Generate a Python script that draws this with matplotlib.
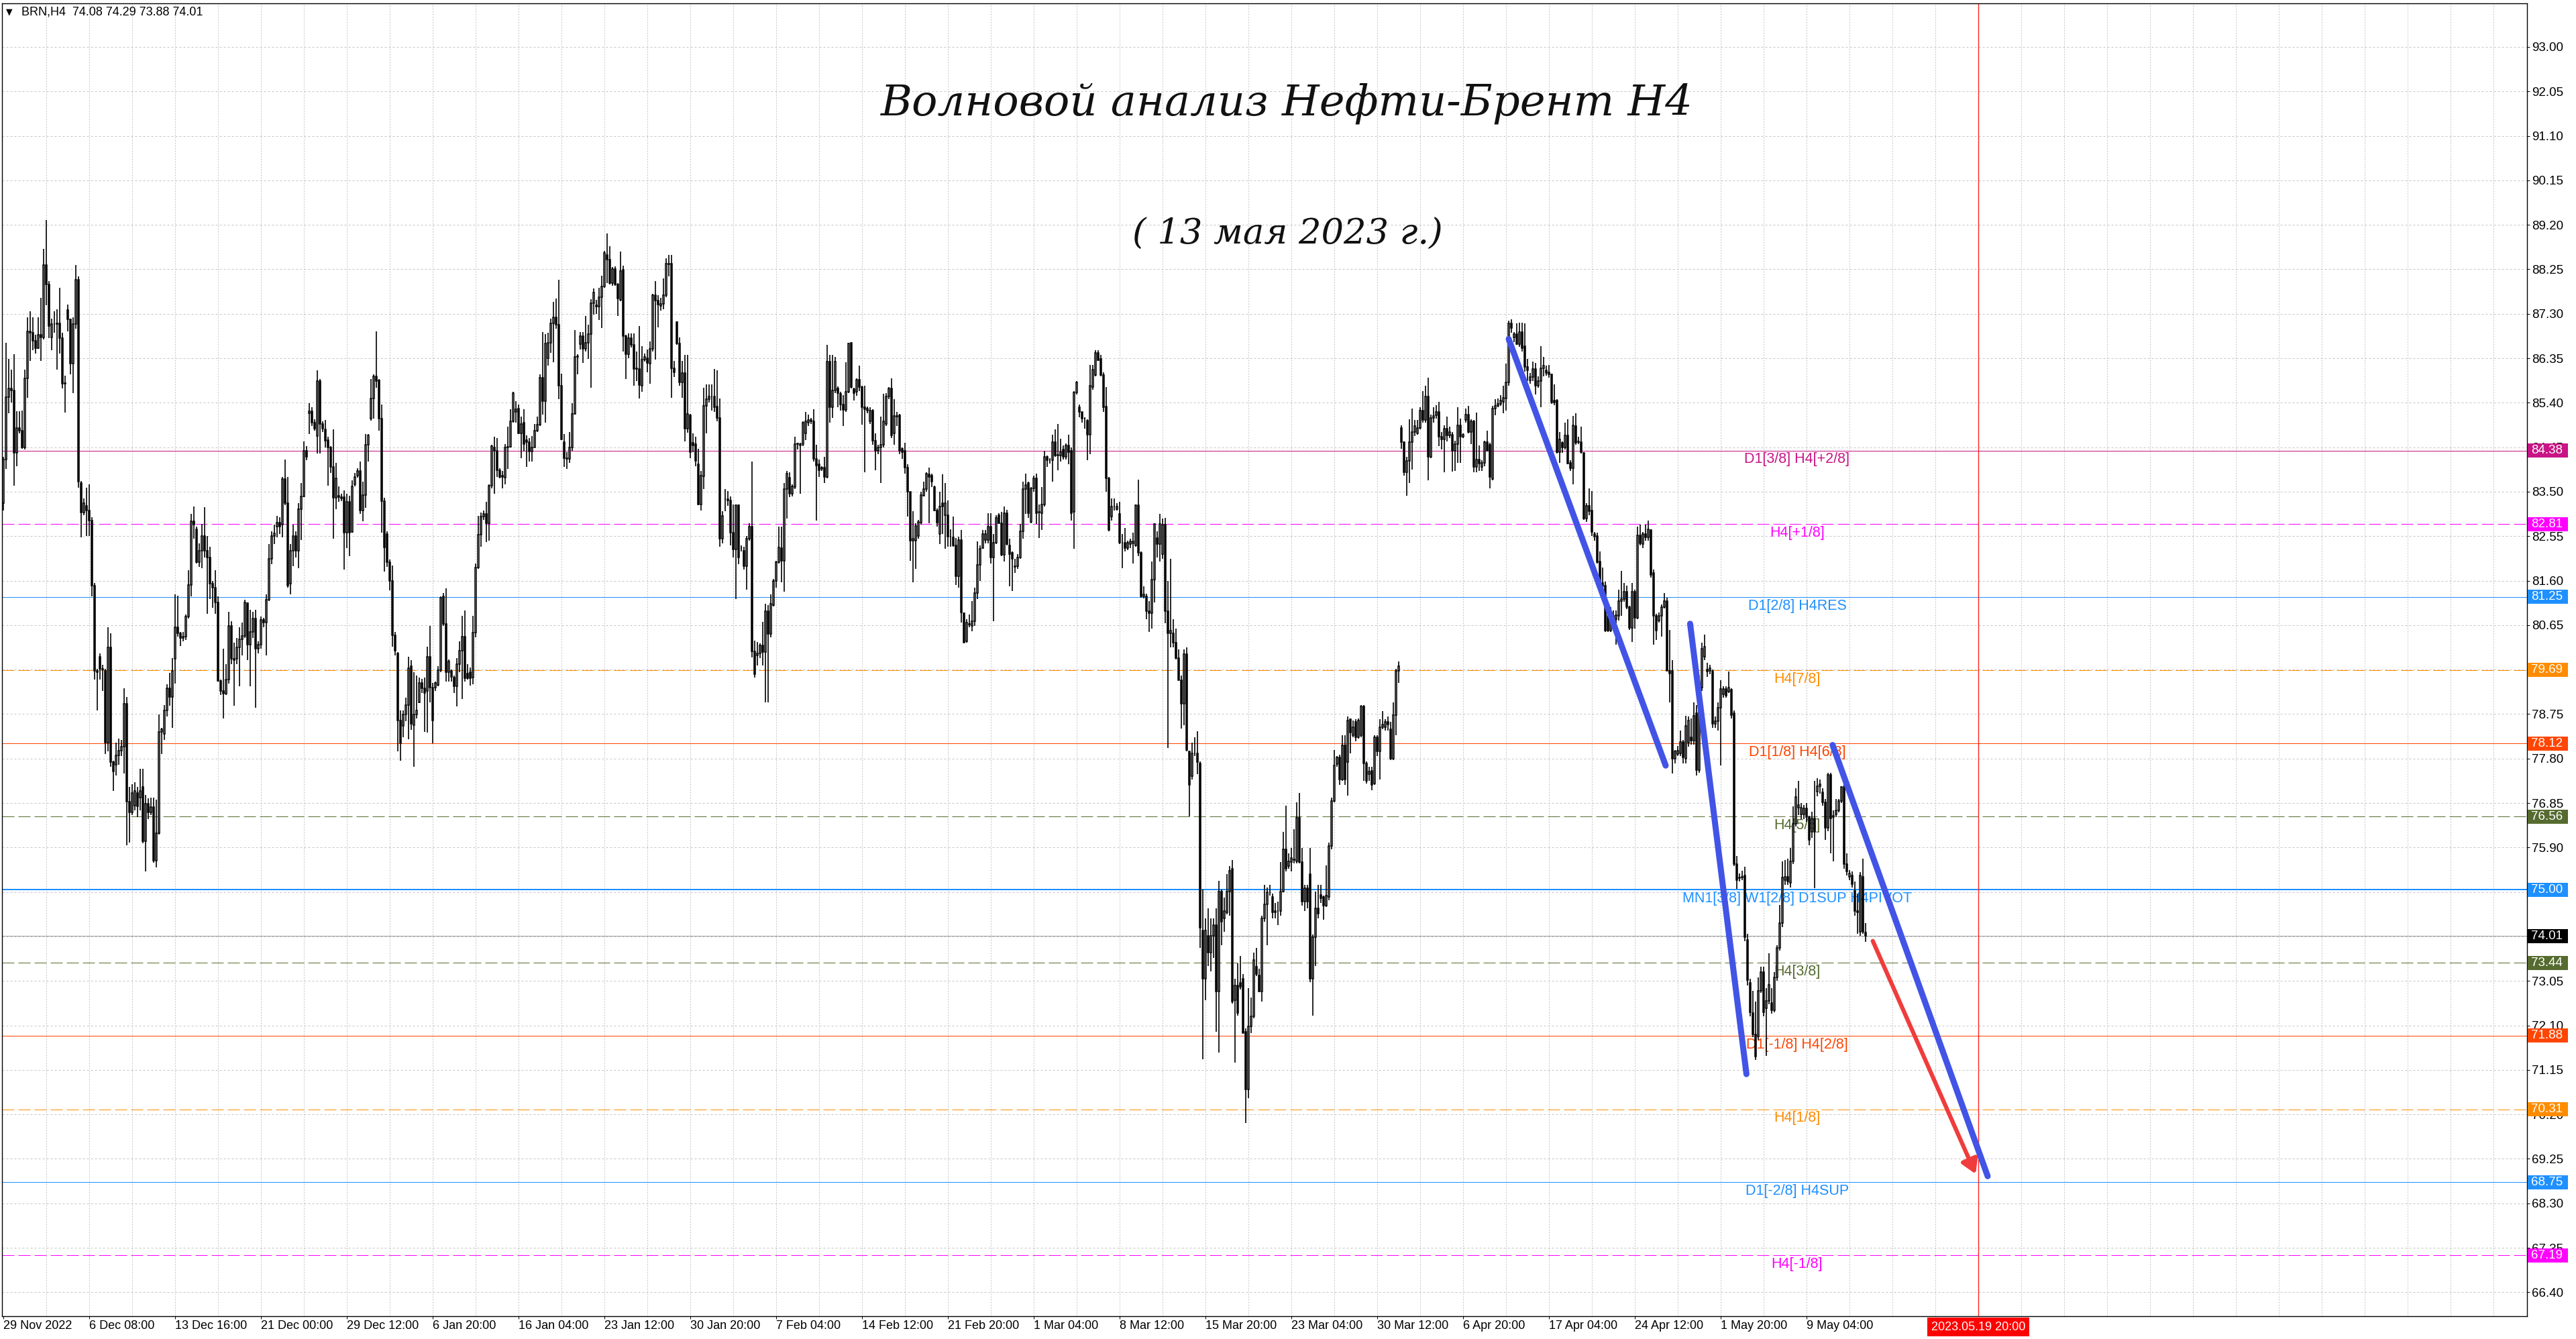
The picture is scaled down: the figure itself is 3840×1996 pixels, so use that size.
import numpy as np
import matplotlib.pyplot as plt
import matplotlib.transforms as mtransforms
from matplotlib.patches import Rectangle, FancyArrowPatch

plt.rcParams['font.family'] = ['Liberation Sans', 'DejaVu Sans']
plt.rcParams['lines.scale_dashes'] = False

# BRN H4 candles (bar 0 = 29 Nov 2022 00:00)
opens = [
    83.26, 84.19, 85.52, 85.70, 85.66, 84.33, 84.86, 84.80, 84.45, 85.92,
    86.92, 86.90, 86.73, 86.57, 86.85, 86.80, 88.34, 87.92, 86.80, 87.08,
    87.08, 87.10, 86.78, 85.80, 87.38, 87.18, 86.23, 87.08, 88.03, 83.68,
    83.06, 83.20, 83.10, 82.89, 81.49, 79.67, 79.98, 79.72, 79.68, 78.14,
    80.17, 77.72, 77.67, 77.87, 77.97, 78.06, 78.97, 76.88, 76.65, 76.80,
    77.06, 76.97, 77.20, 76.04, 76.83, 76.65, 76.76, 75.62, 76.20, 78.37,
    78.32, 78.83, 79.30, 79.11, 79.93, 80.61, 80.47, 80.37, 80.40, 80.84,
    81.51, 82.87, 82.70, 82.00, 82.24, 82.56, 82.24, 82.10, 81.54, 81.45,
    81.14, 79.46, 79.25, 79.18, 79.49, 80.63, 79.93, 79.93, 80.17, 80.35,
    80.42, 81.12, 80.23, 80.51, 80.79, 80.14, 80.23, 80.76, 80.70, 81.19,
    82.07, 82.56, 82.75, 82.84, 82.80, 83.77, 83.26, 81.54, 82.24, 82.56,
    82.24, 83.12, 83.40, 84.38, 85.17, 85.22, 84.97, 84.69, 85.86, 84.95,
    84.83, 84.60, 84.44, 84.03, 83.37, 83.42, 83.38, 83.38, 82.62, 83.28,
    82.64, 83.65, 83.84, 83.94, 83.10, 83.43, 84.50, 85.06, 85.49, 85.96,
    85.88, 85.06, 83.30, 82.60, 82.00, 81.59, 80.44, 80.05, 78.62, 78.50,
    78.74, 78.95, 79.77, 78.51, 78.74, 79.00, 79.41, 79.30, 79.24, 79.98,
    79.31, 79.31, 79.37, 79.69, 81.26, 80.68, 79.65, 79.67, 79.53, 79.34,
    79.82, 80.11, 80.40, 79.61, 79.65, 79.53, 80.49, 81.88, 82.58, 82.97,
    83.03, 82.83, 83.63, 84.44, 84.37, 83.96, 83.84, 83.80, 84.44, 84.46,
    85.00, 85.20, 85.28, 84.75, 84.97, 84.60, 84.56, 84.36, 84.45, 84.81,
    84.93, 85.94, 85.43, 86.35, 86.68, 87.09, 87.22, 87.06, 85.76, 84.56,
    84.21, 84.20, 84.44, 85.16, 86.38, 86.65, 86.83, 86.55, 86.68, 86.87,
    87.53, 87.48, 87.45, 87.66, 87.89, 88.56, 88.46, 87.96, 88.25, 87.92,
    87.59, 88.24, 86.83, 86.44, 86.78, 86.63, 86.12, 86.12, 85.76, 86.32,
    86.35, 86.24, 86.55, 87.70, 87.58, 87.47, 87.51, 87.70, 88.37, 88.37,
    86.13, 87.12, 86.66, 85.84, 86.04, 84.85, 85.13, 84.55, 84.51, 84.09,
    83.23, 83.83, 85.33, 85.47, 85.54, 85.54, 85.32, 85.08, 82.50, 83.34,
    83.34, 83.32, 82.63, 82.26, 83.21, 82.29, 82.24, 81.91, 82.49, 82.76,
    80.09, 80.00, 80.04, 80.22, 80.07, 80.95, 80.46, 81.08, 81.59, 82.00,
    82.29, 82.03, 83.56, 83.80, 83.45, 83.60, 84.52, 84.49, 84.52, 84.75,
    84.97, 85.03, 85.00, 84.20, 84.08, 83.98, 84.02, 83.81, 86.28, 85.30,
    85.66, 85.71, 85.59, 85.36, 85.25, 85.63, 86.68, 85.69, 85.63, 85.89,
    85.74, 85.30, 85.28, 85.00, 85.23, 84.59, 84.37, 84.44, 84.50, 84.95,
    85.53, 85.71, 84.74, 85.12, 85.13, 84.41, 84.37, 84.02, 83.50, 82.46,
    82.46, 82.56, 82.84, 83.42, 83.56, 83.87, 83.85, 83.60, 83.10, 82.60,
    83.26, 83.00, 83.00, 82.54, 82.52, 82.36, 81.70, 82.47, 80.90, 80.31,
    80.68, 80.63, 80.74, 81.34, 81.94, 82.30, 82.47, 82.47, 82.76, 82.09,
    82.41, 83.00, 82.83, 82.15, 83.04, 82.36, 82.19, 81.90, 81.91, 82.09,
    82.65, 83.55, 83.68, 82.86, 83.57, 83.79, 83.06, 83.04, 83.23, 84.24,
    84.17, 84.17, 84.56, 84.27, 84.28, 84.40, 84.24, 84.49, 84.38, 83.07,
    85.62, 85.30, 85.20, 85.06, 85.02, 84.72, 85.73, 85.99, 86.47, 86.33,
    85.99, 85.32, 83.79, 82.97, 83.18, 83.13, 83.02, 82.41, 82.41, 82.30,
    82.38, 82.39, 82.36, 83.21, 82.19, 81.27, 81.27, 80.95, 80.90, 81.62,
    82.51, 82.38, 82.17, 82.79, 80.95, 80.47, 80.47, 80.28, 79.94, 79.47,
    78.97, 80.03, 77.95, 77.43, 77.91, 77.91, 77.69, 74.13, 73.09, 74.02,
    73.65, 74.02, 74.25, 72.83, 74.96, 74.38, 74.51, 74.96, 75.45, 72.64,
    72.95, 73.01, 73.09, 71.97, 70.74, 72.08, 72.30, 73.35, 73.17, 72.83,
    74.38, 74.69, 74.94, 74.85, 74.51, 74.55, 74.55, 74.96, 75.86, 75.50,
    75.59, 75.63, 75.61, 76.53, 75.59, 74.74, 75.03, 75.33, 73.09, 73.99,
    74.60, 74.89, 74.85, 74.66, 74.85, 75.93, 76.90, 77.68, 77.83, 77.35,
    78.08, 77.72, 78.64, 78.30, 78.58, 78.25, 78.30, 78.92, 77.69, 77.46,
    77.54, 77.27, 78.25, 77.95, 78.47, 78.47, 78.58, 78.42, 77.80, 78.73,
    79.67, 84.86, 84.56, 83.91, 84.16, 84.56, 84.78, 84.75, 84.86, 85.23,
    85.03, 85.53, 84.25, 85.08, 85.13, 85.21, 84.68, 84.61, 84.85, 84.70,
    84.71, 84.37, 84.51, 84.92, 84.68, 85.03, 85.15, 84.78, 85.01, 84.03,
    84.19, 84.03, 84.12, 84.56, 84.50, 83.77, 85.27, 85.33, 85.38, 85.42,
    85.49, 85.84, 87.09, 86.79, 86.87, 86.65, 86.91, 86.61, 86.16, 85.88,
    85.95, 86.12, 85.76, 85.86, 86.14, 86.09, 86.05, 86.00, 85.45, 85.45,
    84.35, 84.54, 84.45, 84.70, 84.12, 84.00, 84.91, 84.56, 84.56, 84.33,
    82.92, 83.20, 83.10, 82.60, 82.56, 82.01, 81.55, 81.50, 80.85, 80.54,
    80.82, 80.78, 80.85, 81.17, 81.20, 81.36, 81.03, 80.59, 81.37, 80.80,
    82.57, 82.38, 82.59, 82.52, 82.68, 81.76, 80.85, 80.75, 80.85, 81.04,
    81.17, 79.67, 79.67, 77.79, 77.90, 77.91, 78.16, 77.79, 78.14, 78.25,
    78.19, 78.77, 77.56, 79.31, 79.98, 79.70, 79.68, 79.66, 78.54, 78.60,
    78.88, 79.17, 79.29, 79.23, 79.27, 78.77, 75.54, 75.24, 75.26, 75.31,
    73.93, 73.01, 72.36, 71.91, 71.86, 72.84, 73.24, 72.47, 72.63, 72.58,
    72.43, 73.12, 73.76, 74.28, 75.20, 75.28, 75.14, 75.60, 76.41, 76.75,
    76.61, 76.61, 76.73, 76.55, 76.23, 76.52, 77.10, 77.21, 77.08, 76.87,
    76.32, 77.45, 76.55, 76.61, 76.70, 76.89, 77.19, 75.54, 75.28, 75.31,
    74.97, 74.54, 74.10, 75.28, 74.08,
]
highs = [
    84.25, 86.68, 86.34, 86.10, 86.43, 85.22, 85.22, 85.24, 86.10, 87.22,
    87.36, 87.22, 86.85, 87.22, 87.64, 88.69, 89.30, 88.00, 87.20, 87.36,
    87.40, 87.85, 86.90, 85.98, 87.50, 87.20, 87.22, 88.34, 88.10, 83.73,
    83.36, 83.59, 83.65, 82.95, 81.55, 79.72, 80.05, 79.80, 79.72, 80.60,
    80.47, 77.75, 78.14, 78.23, 78.20, 79.30, 79.11, 77.20, 77.25, 77.30,
    77.20, 77.58, 77.58, 77.02, 76.95, 76.97, 76.97, 76.92, 78.74, 78.45,
    78.95, 79.39, 79.63, 79.95, 81.30, 81.28, 80.50, 80.50, 80.88, 81.82,
    83.03, 83.19, 82.75, 82.40, 82.81, 83.17, 82.56, 82.33, 81.60, 81.82,
    81.26, 79.49, 80.14, 79.81, 80.93, 80.74, 80.28, 80.37, 80.61, 80.70,
    81.19, 81.14, 80.98, 80.93, 80.98, 80.30, 80.84, 80.80, 81.30, 82.38,
    82.65, 82.80, 82.98, 82.95, 83.82, 84.19, 83.82, 82.38, 82.80, 82.65,
    83.26, 83.68, 84.57, 84.47, 85.39, 85.30, 85.05, 86.09, 85.91, 85.00,
    85.03, 84.67, 84.48, 84.83, 84.11, 83.61, 83.45, 83.53, 83.45, 83.41,
    83.74, 83.90, 84.00, 84.15, 83.71, 84.73, 84.73, 85.91, 86.00, 86.93,
    85.91, 85.36, 83.37, 82.66, 82.05, 81.92, 80.50, 80.07, 78.83, 78.83,
    79.10, 79.98, 79.90, 79.65, 79.57, 79.53, 79.50, 79.53, 80.19, 80.64,
    79.41, 79.45, 79.78, 81.26, 81.34, 81.43, 79.92, 79.70, 79.57, 79.94,
    80.31, 80.85, 80.96, 79.82, 79.74, 80.85, 81.96, 82.99, 83.05, 83.10,
    83.28, 83.65, 84.50, 84.67, 84.64, 84.00, 83.94, 84.52, 84.89, 85.26,
    85.63, 85.43, 85.36, 85.10, 85.26, 84.70, 84.64, 84.69, 84.95, 85.10,
    86.00, 86.91, 86.87, 86.90, 87.20, 87.56, 87.62, 88.03, 86.02, 84.73,
    84.35, 84.77, 85.39, 86.95, 86.43, 86.91, 86.91, 87.26, 87.07, 87.61,
    87.84, 87.60, 87.86, 88.11, 88.65, 89.02, 88.74, 88.30, 88.32, 87.95,
    88.63, 88.33, 86.85, 86.88, 86.88, 86.88, 86.50, 87.04, 86.61, 86.45,
    86.53, 86.71, 87.72, 88.00, 87.70, 87.64, 88.06, 88.49, 88.56, 88.56,
    86.30, 87.14, 86.79, 86.30, 86.42, 86.42, 85.16, 84.74, 84.67, 84.41,
    83.94, 85.72, 85.79, 85.79, 85.79, 86.12, 86.09, 85.49, 83.09, 83.55,
    83.52, 83.40, 83.22, 83.22, 83.22, 82.36, 82.33, 82.56, 82.82, 84.14,
    80.32, 80.29, 80.26, 80.72, 81.11, 81.08, 81.31, 81.64, 82.03, 82.76,
    82.76, 83.68, 83.94, 83.91, 83.65, 84.67, 84.55, 84.55, 85.00, 85.20,
    85.15, 85.07, 85.26, 84.50, 84.18, 84.05, 84.24, 86.63, 86.42, 86.42,
    86.38, 85.75, 85.63, 85.56, 86.27, 86.68, 86.70, 85.72, 85.92, 86.19,
    85.76, 85.76, 85.32, 85.30, 85.26, 84.74, 84.50, 85.10, 85.59, 85.60,
    85.74, 85.92, 85.47, 85.20, 85.16, 84.45, 84.54, 84.08, 83.50, 83.09,
    82.82, 82.90, 83.50, 83.71, 83.91, 84.02, 83.88, 83.63, 83.14, 83.50,
    83.87, 83.68, 83.32, 82.70, 82.97, 82.51, 82.54, 82.68, 80.92, 80.77,
    80.88, 81.16, 81.45, 82.44, 82.36, 82.68, 82.68, 83.04, 83.04, 82.60,
    83.00, 83.04, 83.07, 83.18, 83.11, 82.49, 82.22, 82.07, 82.17, 82.81,
    83.71, 83.89, 83.71, 83.60, 83.85, 83.89, 83.23, 83.60, 84.38, 84.27,
    84.22, 84.72, 84.83, 84.95, 84.63, 84.49, 84.53, 84.72, 84.45, 85.65,
    85.87, 85.36, 85.20, 85.09, 85.04, 86.21, 86.21, 86.52, 86.52, 86.42,
    86.05, 85.73, 83.82, 83.36, 83.36, 83.25, 83.29, 82.60, 82.72, 82.45,
    82.50, 82.62, 83.23, 83.76, 82.22, 81.48, 81.32, 81.16, 82.01, 82.83,
    82.65, 83.02, 82.92, 82.94, 81.59, 82.07, 80.77, 80.58, 80.13, 79.57,
    80.13, 80.18, 77.97, 78.14, 78.25, 78.39, 77.74, 75.00, 74.38, 74.60,
    74.38, 74.38, 74.60, 75.19, 75.00, 74.83, 75.33, 75.50, 75.64, 73.09,
    73.43, 73.59, 73.20, 72.03, 72.90, 72.70, 73.65, 73.76, 73.31, 74.44,
    75.11, 75.05, 75.11, 74.92, 74.72, 74.74, 75.59, 76.23, 76.79, 75.78,
    75.89, 76.29, 76.87, 77.07, 75.89, 75.10, 75.10, 75.89, 74.04, 74.96,
    75.11, 75.11, 74.88, 75.52, 76.01, 76.96, 77.99, 77.86, 77.88, 78.30,
    78.30, 78.70, 78.66, 78.62, 78.64, 78.66, 78.95, 78.95, 77.74, 77.63,
    77.63, 78.30, 78.30, 78.64, 78.81, 78.64, 78.70, 78.58, 79.00, 79.71,
    79.87, 84.92, 84.58, 84.25, 85.05, 85.28, 85.03, 85.03, 85.31, 85.65,
    85.76, 85.93, 85.14, 85.31, 85.35, 85.42, 84.78, 84.92, 85.10, 84.89,
    84.78, 84.59, 85.31, 85.06, 84.75, 85.27, 85.34, 85.05, 85.03, 85.19,
    84.49, 84.17, 84.59, 84.80, 84.54, 85.34, 85.47, 85.49, 85.56, 85.76,
    86.24, 87.15, 87.18, 86.91, 87.09, 87.11, 87.11, 87.09, 86.33, 86.04,
    86.28, 86.25, 85.97, 86.61, 86.38, 86.19, 86.21, 86.02, 85.79, 85.48,
    84.78, 84.57, 84.98, 85.05, 84.17, 85.12, 85.17, 84.68, 84.89, 84.35,
    83.25, 83.57, 83.52, 82.64, 82.63, 82.22, 81.88, 81.58, 81.00, 81.03,
    80.96, 80.96, 81.41, 81.81, 81.55, 81.50, 81.06, 81.55, 81.41, 82.75,
    82.80, 82.64, 82.80, 82.89, 82.70, 81.83, 80.89, 80.92, 81.09, 81.34,
    81.24, 80.55, 79.91, 77.99, 78.07, 78.40, 78.20, 78.71, 78.70, 78.65,
    79.00, 78.94, 79.58, 80.27, 80.45, 79.85, 79.80, 79.70, 78.70, 79.00,
    79.47, 79.35, 79.35, 79.66, 79.30, 78.83, 75.72, 75.35, 75.40, 75.49,
    74.05, 73.09, 72.84, 72.61, 73.12, 73.36, 73.36, 72.90, 73.64, 72.90,
    73.24, 73.82, 74.68, 75.60, 75.63, 75.66, 75.89, 76.78, 77.16, 77.33,
    76.85, 76.81, 76.85, 76.58, 76.66, 77.33, 77.38, 77.35, 77.16, 76.93,
    77.50, 77.50, 76.70, 76.93, 76.94, 77.21, 77.27, 75.77, 75.42, 75.39,
    75.17, 74.91, 75.37, 75.66, 74.29,
]
lows = [
    83.10, 83.99, 85.17, 85.40, 83.63, 84.05, 84.75, 84.42, 84.40, 85.50,
    86.30, 86.52, 86.45, 86.55, 86.30, 86.75, 87.48, 86.78, 86.52, 86.90,
    86.10, 86.45, 85.70, 85.19, 86.92, 86.00, 85.60, 86.98, 83.59, 82.52,
    83.00, 82.56, 82.56, 81.26, 79.49, 78.83, 79.49, 79.25, 77.90, 77.95,
    77.62, 77.11, 77.44, 77.67, 77.85, 77.48, 75.95, 76.00, 76.60, 76.70,
    76.55, 76.69, 75.99, 75.39, 76.50, 76.60, 75.57, 75.48, 76.18, 77.90,
    78.20, 78.70, 78.93, 78.46, 79.40, 80.40, 80.20, 80.30, 80.33, 80.79,
    81.26, 82.50, 81.96, 81.90, 81.86, 82.10, 80.89, 81.21, 81.02, 80.89,
    79.44, 79.16, 78.65, 79.16, 79.40, 79.82, 78.93, 79.81, 79.35, 80.00,
    80.37, 79.91, 79.35, 80.37, 78.88, 80.05, 80.15, 80.60, 80.00, 81.16,
    81.95, 82.38, 82.52, 82.60, 82.52, 83.21, 81.45, 81.30, 81.91, 82.10,
    81.86, 82.47, 83.38, 84.17, 84.73, 84.90, 84.80, 84.31, 84.31, 84.78,
    84.44, 83.63, 83.90, 82.50, 83.12, 83.28, 83.30, 81.84, 82.29, 82.13,
    82.62, 83.61, 83.80, 83.03, 82.87, 83.16, 84.15, 85.02, 85.06, 85.72,
    84.81, 82.62, 81.80, 81.90, 81.40, 80.19, 80.00, 77.96, 77.76, 78.25,
    78.60, 78.21, 78.41, 77.63, 78.66, 78.98, 79.20, 78.37, 78.35, 79.00,
    78.13, 79.25, 79.35, 79.65, 80.64, 79.45, 79.45, 79.45, 79.20, 78.91,
    79.65, 79.07, 79.45, 79.49, 79.36, 79.39, 80.39, 81.85, 82.33, 82.90,
    82.42, 82.46, 83.57, 83.45, 83.82, 83.78, 83.57, 83.65, 83.98, 84.44,
    84.97, 84.97, 84.73, 84.21, 84.36, 84.03, 84.15, 84.15, 84.44, 84.77,
    84.90, 85.14, 84.97, 86.20, 86.46, 86.27, 86.98, 85.47, 84.60, 84.03,
    83.98, 84.11, 84.37, 85.14, 86.01, 86.53, 86.25, 86.50, 86.34, 85.72,
    87.28, 87.30, 87.16, 86.99, 87.85, 87.96, 87.92, 87.90, 87.90, 87.26,
    87.57, 86.50, 85.90, 86.35, 86.58, 85.76, 85.86, 85.49, 85.63, 86.28,
    86.05, 85.80, 86.50, 86.32, 87.01, 87.37, 87.40, 87.65, 88.10, 85.51,
    85.95, 86.64, 85.76, 85.51, 84.57, 84.76, 84.21, 84.34, 84.04, 83.21,
    83.10, 83.55, 84.75, 85.40, 85.23, 85.20, 85.00, 82.33, 82.40, 83.09,
    83.20, 82.36, 82.10, 81.21, 81.95, 82.23, 81.84, 81.41, 82.45, 79.96,
    79.53, 79.79, 79.95, 79.79, 79.00, 79.00, 80.39, 81.05, 81.45, 81.97,
    81.57, 81.37, 82.92, 83.38, 83.40, 83.55, 84.40, 83.45, 84.47, 84.60,
    84.90, 84.95, 84.15, 82.89, 83.81, 83.95, 83.68, 83.78, 84.97, 85.07,
    85.60, 85.30, 85.23, 84.90, 85.20, 85.60, 85.70, 85.45, 85.55, 85.65,
    84.93, 83.91, 85.18, 84.95, 84.50, 83.96, 84.30, 83.68, 84.45, 84.90,
    85.48, 84.64, 84.50, 84.90, 84.30, 84.20, 83.88, 82.97, 82.02, 81.57,
    81.85, 82.50, 82.80, 83.40, 83.50, 82.82, 83.60, 83.09, 82.76, 82.38,
    82.60, 82.28, 82.33, 82.33, 82.33, 81.51, 81.45, 80.71, 80.28, 80.28,
    80.60, 80.52, 80.63, 81.20, 81.59, 82.28, 82.40, 82.40, 81.96, 80.74,
    82.38, 82.81, 82.12, 82.01, 82.36, 81.48, 81.38, 81.77, 81.85, 82.07,
    82.49, 83.02, 82.94, 82.83, 83.50, 82.81, 82.51, 82.68, 83.18, 84.03,
    84.10, 83.71, 84.24, 83.96, 84.14, 84.19, 84.19, 84.08, 82.89, 82.28,
    85.57, 85.09, 84.98, 84.85, 84.17, 84.30, 85.67, 85.97, 86.29, 85.97,
    85.20, 83.50, 82.65, 82.89, 83.10, 83.10, 82.38, 81.87, 82.23, 82.25,
    82.30, 81.96, 82.33, 82.12, 81.24, 81.22, 80.77, 80.50, 80.58, 81.13,
    82.09, 82.01, 82.07, 80.69, 78.03, 80.18, 80.18, 79.92, 79.47, 78.44,
    78.51, 77.95, 76.57, 77.35, 77.85, 77.46, 73.76, 71.38, 72.64, 73.37,
    73.26, 73.54, 71.97, 71.52, 73.82, 74.10, 74.47, 74.44, 72.56, 71.30,
    72.31, 72.87, 71.94, 70.01, 70.55, 71.94, 72.25, 73.15, 72.81, 72.61,
    74.32, 73.82, 74.88, 74.38, 74.38, 74.24, 74.44, 74.94, 75.39, 75.45,
    75.39, 75.56, 75.56, 75.56, 74.66, 74.55, 74.60, 73.03, 72.31, 73.37,
    74.38, 74.72, 74.36, 74.63, 74.77, 75.86, 76.87, 77.63, 77.24, 77.32,
    77.24, 77.01, 77.91, 78.25, 78.17, 78.22, 78.25, 77.32, 77.27, 77.32,
    77.13, 77.24, 77.86, 77.35, 78.42, 78.40, 78.40, 77.77, 77.77, 78.30,
    79.42, 84.41, 83.85, 83.41, 83.68, 83.97, 84.69, 84.72, 84.83, 84.97,
    84.97, 83.74, 84.22, 84.97, 85.06, 84.47, 84.40, 83.91, 84.57, 84.64,
    83.93, 83.95, 84.12, 84.12, 84.64, 84.98, 84.75, 84.51, 83.91, 83.91,
    83.95, 83.95, 84.05, 84.37, 83.57, 83.74, 85.13, 85.31, 85.34, 85.17,
    85.24, 85.76, 86.90, 86.70, 86.63, 86.60, 86.50, 86.07, 85.86, 85.80,
    85.86, 85.58, 85.72, 85.31, 85.97, 85.98, 85.93, 85.38, 85.35, 84.31,
    84.12, 84.33, 84.40, 84.09, 83.95, 83.66, 84.50, 84.52, 84.31, 82.90,
    82.85, 83.00, 82.56, 82.45, 81.97, 81.51, 81.40, 80.50, 80.50, 80.50,
    80.70, 80.23, 80.75, 80.85, 81.15, 80.99, 80.55, 80.29, 80.57, 80.78,
    82.36, 82.30, 82.45, 82.45, 81.67, 80.23, 80.33, 80.70, 80.40, 81.00,
    79.67, 79.00, 77.48, 77.69, 77.85, 77.86, 77.70, 77.70, 78.05, 78.10,
    78.10, 77.44, 77.50, 79.25, 79.90, 79.55, 79.60, 78.45, 78.45, 78.40,
    77.65, 79.10, 79.10, 79.20, 78.65, 75.50, 75.02, 75.17, 75.20, 73.90,
    72.95, 72.30, 71.85, 71.36, 71.80, 72.80, 72.30, 71.45, 72.55, 72.35,
    72.38, 73.05, 73.70, 74.20, 75.10, 75.10, 75.05, 75.55, 76.35, 76.60,
    76.50, 76.50, 76.45, 75.95, 76.10, 75.03, 77.00, 77.05, 76.80, 76.06,
    76.25, 75.77, 75.60, 76.55, 76.65, 76.85, 75.45, 75.30, 75.20, 75.05,
    74.45, 74.05, 74.02, 74.05, 73.88,
]
closes = [
    84.19, 85.52, 85.70, 85.66, 84.33, 84.86, 84.80, 84.45, 85.92, 86.92,
    86.90, 86.73, 86.57, 86.85, 86.80, 88.34, 87.92, 87.04, 87.08, 87.08,
    87.10, 86.78, 85.80, 85.82, 87.18, 86.23, 87.08, 88.03, 83.71, 83.06,
    83.26, 83.10, 82.89, 81.49, 79.67, 79.65, 79.72, 79.70, 78.14, 80.17,
    77.72, 77.53, 77.87, 77.97, 78.06, 78.97, 76.88, 76.65, 77.06, 77.11,
    76.78, 77.11, 76.04, 76.83, 76.65, 76.76, 75.62, 76.20, 78.37, 78.42,
    78.83, 79.30, 79.11, 79.67, 80.61, 80.47, 80.37, 80.40, 80.84, 81.51,
    82.87, 82.80, 82.00, 82.24, 82.56, 82.24, 82.10, 81.54, 81.45, 81.14,
    79.46, 79.25, 79.18, 79.49, 80.63, 79.93, 79.90, 80.17, 80.35, 80.42,
    81.14, 80.23, 80.51, 80.79, 80.14, 80.23, 80.76, 80.70, 81.19, 82.07,
    82.56, 82.61, 82.84, 82.76, 83.77, 83.26, 81.49, 82.24, 82.56, 82.24,
    83.12, 83.40, 84.38, 84.24, 85.22, 84.97, 84.85, 85.86, 84.95, 84.85,
    84.59, 84.44, 84.03, 83.37, 83.78, 83.38, 83.35, 82.62, 83.28, 82.62,
    83.61, 83.82, 83.94, 83.10, 83.43, 84.50, 84.70, 85.49, 85.96, 85.86,
    85.06, 83.30, 82.31, 82.00, 81.59, 80.44, 80.11, 78.62, 78.13, 78.74,
    78.95, 79.73, 78.54, 78.74, 78.83, 79.41, 79.30, 79.20, 79.98, 79.32,
    78.62, 79.41, 79.69, 81.24, 80.68, 79.65, 79.88, 79.55, 79.34, 79.82,
    80.11, 80.40, 79.51, 79.51, 79.51, 80.49, 81.88, 82.58, 82.97, 83.03,
    82.83, 83.63, 84.48, 84.37, 83.96, 83.82, 83.82, 84.44, 84.46, 85.00,
    85.61, 85.26, 84.75, 84.95, 84.52, 84.56, 84.36, 84.45, 84.81, 84.93,
    85.94, 85.43, 86.67, 86.68, 87.09, 87.22, 87.06, 85.76, 84.62, 84.21,
    84.20, 84.44, 85.16, 86.38, 86.40, 86.83, 86.55, 86.68, 86.87, 87.53,
    87.75, 87.45, 87.66, 87.89, 88.60, 88.46, 87.96, 88.25, 87.92, 87.62,
    88.22, 86.83, 86.43, 86.78, 86.63, 86.12, 86.13, 85.78, 86.32, 86.38,
    86.25, 86.55, 87.70, 87.58, 87.49, 87.51, 87.70, 88.37, 88.36, 86.13,
    86.05, 86.66, 85.84, 86.04, 84.85, 85.16, 84.34, 84.49, 84.16, 83.23,
    83.85, 85.33, 85.47, 85.54, 85.54, 85.30, 85.08, 82.50, 82.99, 83.34,
    83.32, 82.63, 82.26, 83.21, 82.09, 82.30, 81.91, 82.49, 82.76, 80.09,
    79.60, 80.04, 80.22, 80.07, 80.95, 80.46, 81.10, 81.59, 82.00, 82.31,
    82.03, 83.56, 83.88, 83.45, 83.62, 84.52, 84.53, 84.52, 84.97, 85.01,
    85.03, 85.00, 84.20, 84.06, 83.96, 84.02, 83.81, 86.28, 85.30, 85.66,
    86.28, 85.61, 85.36, 85.25, 85.63, 86.66, 85.74, 85.61, 85.89, 85.73,
    85.30, 85.26, 85.23, 85.23, 84.59, 84.37, 84.44, 84.50, 85.01, 85.53,
    85.71, 84.70, 85.12, 85.10, 84.37, 84.34, 84.02, 83.50, 82.46, 82.50,
    82.77, 82.86, 83.43, 83.56, 83.88, 83.81, 83.71, 83.10, 82.84, 83.18,
    83.18, 83.25, 82.54, 82.54, 82.36, 81.70, 82.47, 80.92, 80.28, 80.71,
    80.66, 80.74, 81.34, 81.94, 82.28, 82.60, 82.60, 82.76, 82.09, 82.41,
    82.94, 82.83, 82.15, 83.04, 82.38, 82.17, 82.07, 81.91, 82.09, 82.65,
    83.55, 83.64, 83.04, 83.57, 83.79, 83.04, 83.07, 83.23, 84.24, 84.17,
    84.17, 84.56, 84.27, 84.29, 84.35, 84.24, 84.49, 84.35, 83.04, 85.62,
    85.83, 85.20, 85.06, 85.06, 84.72, 85.76, 86.10, 86.47, 86.31, 85.99,
    85.30, 83.79, 82.68, 83.18, 83.18, 83.18, 82.41, 82.41, 82.30, 82.41,
    82.44, 82.44, 83.21, 82.19, 81.27, 81.30, 80.95, 80.90, 81.62, 82.81,
    82.38, 82.81, 82.79, 80.95, 80.47, 80.53, 80.28, 79.94, 79.47, 78.97,
    80.03, 77.98, 77.24, 77.91, 77.91, 77.72, 74.18, 73.09, 74.13, 73.65,
    74.02, 74.25, 72.83, 74.96, 74.32, 74.55, 74.96, 75.41, 72.61, 72.95,
    72.36, 72.92, 71.94, 70.74, 72.08, 72.30, 73.50, 73.20, 72.83, 74.38,
    74.69, 74.94, 74.95, 74.51, 74.55, 74.55, 74.96, 75.86, 75.45, 75.61,
    75.67, 75.65, 76.53, 75.59, 74.74, 75.03, 74.74, 73.09, 73.99, 74.60,
    74.49, 74.81, 74.66, 74.88, 75.93, 76.90, 77.65, 77.83, 77.35, 78.08,
    77.35, 78.62, 78.36, 78.47, 78.25, 78.62, 78.92, 77.69, 77.32, 77.52,
    77.24, 78.25, 77.95, 78.47, 78.53, 78.58, 78.53, 77.80, 78.73, 79.67,
    79.78, 84.56, 83.91, 84.16, 84.56, 84.78, 84.90, 84.86, 85.23, 85.03,
    85.53, 84.25, 85.08, 85.12, 85.21, 84.68, 84.61, 84.85, 84.70, 84.77,
    84.38, 84.51, 84.92, 84.68, 84.71, 85.15, 84.78, 85.01, 84.03, 84.19,
    84.10, 84.12, 84.56, 84.38, 83.81, 85.28, 85.33, 85.38, 85.45, 85.51,
    85.84, 87.09, 86.99, 86.86, 86.65, 86.91, 86.56, 86.16, 86.09, 85.95,
    86.12, 85.76, 85.86, 86.14, 86.19, 86.04, 86.00, 85.40, 85.40, 84.35,
    84.61, 84.45, 84.70, 84.10, 84.00, 84.92, 84.54, 84.57, 84.35, 82.92,
    83.20, 83.08, 82.64, 82.54, 82.00, 81.55, 81.48, 80.54, 80.54, 80.82,
    80.85, 80.86, 81.17, 81.20, 81.36, 81.03, 80.59, 81.36, 80.80, 82.57,
    82.40, 82.59, 82.52, 82.70, 81.72, 80.85, 80.54, 80.85, 81.04, 81.17,
    79.67, 79.62, 77.79, 77.96, 77.97, 78.16, 77.82, 78.50, 78.62, 78.19,
    78.71, 77.56, 79.31, 80.15, 80.19, 79.66, 79.73, 78.54, 78.60, 78.88,
    79.29, 79.29, 79.15, 79.31, 78.73, 75.54, 75.20, 75.26, 75.28, 73.99,
    73.07, 72.38, 71.91, 71.43, 72.84, 73.24, 72.38, 72.63, 72.97, 72.43,
    73.12, 73.76, 74.28, 75.26, 75.28, 75.17, 75.60, 76.41, 76.98, 76.81,
    76.75, 76.73, 76.55, 76.06, 76.52, 76.23, 77.21, 77.25, 76.87, 76.32,
    77.45, 76.52, 76.58, 76.70, 76.89, 77.19, 75.54, 75.39, 75.35, 75.12,
    74.54, 74.51, 75.31, 74.10, 74.01,
]

tick_bars = [0, 32, 64, 96, 128, 160, 192, 224, 256, 288, 320, 352, 384,
             416, 448, 480, 512, 544, 576, 608, 640, 672]
tick_labels = ['29 Nov 2022', '6 Dec 08:00', '13 Dec 16:00', '21 Dec 00:00',
               '29 Dec 12:00', '6 Jan 20:00', '16 Jan 04:00', '23 Jan 12:00',
               '30 Jan 20:00', '7 Feb 04:00', '14 Feb 12:00', '21 Feb 20:00',
               '1 Mar 04:00', '8 Mar 12:00', '15 Mar 20:00', '23 Mar 04:00',
               '30 Mar 12:00', '6 Apr 20:00', '17 Apr 04:00', '24 Apr 12:00',
               '1 May 20:00', '9 May 04:00']
price_ticks = [66.40, 67.35, 68.30, 69.25, 70.20, 71.15, 72.10, 73.05, 74.00,
               74.95, 75.90, 76.85, 77.80, 78.75, 79.70, 80.65, 81.60, 82.55,
               83.50, 84.45, 85.40, 86.35, 87.30, 88.25, 89.20, 90.15, 91.10,
               92.05, 93.00]

level_prices = [84.38, 82.81, 81.25, 79.69, 78.12, 76.56, 75.00, 73.44, 71.88,
                70.31, 68.75, 67.19]
level_names = ['D1[3/8] H4[+2/8]', 'H4[+1/8]', 'D1[2/8] H4RES', 'H4[7/8]',
               'D1[1/8] H4[6/8]', 'H4[5/8]', 'MN1[3/8] W1[2/8] D1SUP H4PIVOT',
               'H4[3/8]', 'D1[-1/8] H4[2/8]', 'H4[1/8]', 'D1[-2/8] H4SUP', 'H4[-1/8]']
level_colors = ['#C71585', '#FF00FF', '#1E90FF', '#FF8C00', '#FF4500', '#556B2F',
                '#1E90FF', '#556B2F', '#FF4500', '#FF8C00', '#1E90FF', '#FF00FF']
level_dashed = [False, True, False, True, False, True, False, True, False, True,
                False, True]
bid_price = 74.01

# hand-drawn wave lines (bar index, price)
wave_start_x = [561.0, 628.6, 681.7]
wave_start_y = [86.76, 80.68, 78.09]
wave_end_x = [619.5, 649.6, 739.5]
wave_end_y = [77.65, 71.06, 68.88]
arrow_x = [696.4, 735.3]
arrow_y = [73.94, 68.89]
future_bar = 736
future_label = '2023.05.19 20:00'

W, H = 3840, 1996
px = 0.72  # one pixel in points at dpi 100

fig = plt.figure(figsize=(W / 100, H / 100), dpi=100)
ax = fig.add_axes([3 / W, 1 - 1962 / H, (3767 - 3) / W, (1962 - 5) / H])
ax.set_xlim(-0.5, 940.5)
ax.set_ylim(65.89, 93.93)

# grid
for gx in range(16, 941, 16):
    ax.axvline(gx, color='#c4c4c4', lw=px, ls=(0, (2 * px, 2 * px)), zorder=0.5)
for gy in price_ticks:
    ax.axhline(gy, color='#c4c4c4', lw=px, ls=(0, (3 * px, 3 * px)), zorder=0.5)

# levels
for p, name, c, d in zip(level_prices, level_names, level_colors, level_dashed):
    lw = 2 * px if p == 75.00 else px
    ls = (0, (18 * px, 6 * px)) if d else '-'
    ax.axhline(p, color=c, lw=lw, ls=ls, zorder=1)
    ax.annotate(name, xy=(668.5, p), xytext=(0, -2), textcoords='offset points',
                ha='center', va='top', color=c, fontsize=15.5, zorder=1.5)
ax.axhline(bid_price, color='#a0a0a0', lw=px, zorder=1)

# candles
x = np.arange(len(closes))
o = np.array(opens)
c = np.array(closes)
hi = np.maximum(np.array(highs), np.maximum(o, c))
lo = np.minimum(np.array(lows), np.minimum(o, c))
ax.vlines(x, lo, hi, color='black', lw=1.2, zorder=2)
face = np.where(c >= o, 'white', 'black')
ax.bar(x, np.abs(c - o), bottom=np.minimum(o, c), width=0.72, color=face,
       edgecolor='black', linewidth=1.1, zorder=3)

# wave lines and forecast arrow
for x0, y0, x1, y1 in zip(wave_start_x, wave_start_y, wave_end_x, wave_end_y):
    ax.plot([x0, x1], [y0, y1], color='#4254E6', lw=6.5, solid_capstyle='round',
            zorder=4)
ax.add_patch(FancyArrowPatch((arrow_x[0], arrow_y[0]), (arrow_x[1], arrow_y[1]),
                             arrowstyle='-|>,head_length=0.5,head_width=0.3',
                             mutation_scale=25, color='#F03C3C', lw=4.5,
                             capstyle='round', zorder=4))
ax.axvline(future_bar, color='#FF2020', lw=1.0, zorder=1)

# titles
ax.text(0.509, 0.924, 'Волновой анализ Нефти-Брент Н4', transform=ax.transAxes,
        ha='center', va='center', fontsize=46, family='DejaVu Serif',
        style='italic', color='#111111', zorder=5)
ax.text(0.509, 0.824, '( 13 мая 2023 г.)', transform=ax.transAxes,
        ha='center', va='center', fontsize=38, family='DejaVu Serif',
        style='italic', color='#111111', zorder=5)

# axes
for s in ax.spines.values():
    s.set_linewidth(1.0)
    s.set_color('black')
ax.yaxis.tick_right()
ax.set_yticks(price_ticks)
ax.set_yticklabels(['%.2f' % v for v in price_ticks])
ax.set_xticks(tick_bars)
ax.set_xticklabels(tick_labels)
for lab in ax.get_xticklabels():
    lab.set_horizontalalignment('left')
ax.tick_params(axis='y', length=4 * px, width=px, pad=3 * px, labelsize=13.5)
ax.tick_params(axis='x', length=4 * px, width=px, pad=2 * px, labelsize=13)

# price boxes on the right scale
tr = mtransforms.blended_transform_factory(fig.transFigure, ax.transData)
box_h = 21 / 69.8
for p, col in zip(level_prices + [bid_price], level_colors + ['black']):
    ax.add_patch(Rectangle((3768 / W, p - box_h / 2), 60 / W, box_h, transform=tr,
                           facecolor=col, edgecolor='none', clip_on=False, zorder=6))
    ax.text(3773 / W, p, '%.2f' % p, transform=tr, ha='left', va='center',
            color='white', fontsize=13.5, clip_on=False, zorder=7)

# future time marker on the time scale
ax.text(future_bar, -0.004, future_label,
        transform=mtransforms.blended_transform_factory(ax.transData, ax.transAxes),
        ha='center', va='top', color='white', fontsize=13, clip_on=False,
        bbox=dict(boxstyle='square,pad=0.3', facecolor='#FF0000', edgecolor='none'),
        zorder=7)

# header
fig.text(9 / W, 1 - 18 / H, '▼', ha='left', va='center', fontsize=9,
         family='DejaVu Sans')
fig.text(32 / W, 1 - 18 / H,
         'BRN,H4  %.2f %.2f %.2f %.2f' % (opens[-1], highs[-1], lows[-1], closes[-1]),
         ha='left', va='center', fontsize=13)

fig.savefig('out.png', dpi=100, facecolor='white')
